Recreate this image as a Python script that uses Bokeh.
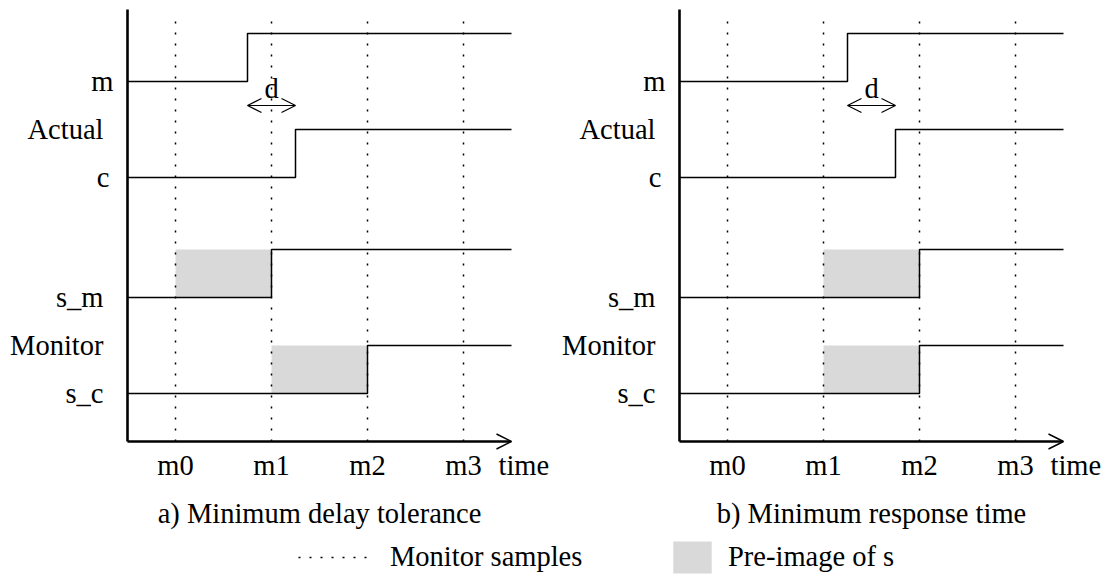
from bokeh.plotting import figure
from bokeh.models import Range1d, Arrow, OpenHead, Legend, LegendItem
from bokeh.core.properties import value
from bokeh.embed import file_html
from bokeh.resources import INLINE

# ---------------- data ----------------
sample_times = [1, 2, 3, 4]
sample_labels = ["m0", "m1", "m2", "m3"]
signal_names = ["m", "c", "s_m", "s_c"]
signal_levels = [7.5, 5.5, 3.0, 1.0]      # low level of each trace (high = low + 1)
group_names = ["Actual", "Monitor"]
group_levels = [6.5, 2.0]
time_start, time_end = 0.5, 4.5
axis_top = 9.0
samples_top = 8.875

# panel a) Minimum delay tolerance
rise_a = [1.75, 2.25, 2.0, 3.0]
pre_start_a = [1, 2]      # pre-image of s_m, s_c
pre_end_a = [2, 3]
# panel b) Minimum response time
rise_b = [2.25, 2.75, 3.0, 3.0]
pre_start_b = [2, 2]
pre_end_b = [3, 3]

captions = ["a) Minimum delay tolerance", "b) Minimum response time"]
legend_labels = ["Monitor samples", "Pre-image of s"]

# ---------------- layout ----------------
W, H = 1115, 577
UX, UY = 96.0, 48.0          # pixels per unit
ax_a = 175                   # canvas pixel of t=1, panel a
ax_b = 727                   # canvas pixel of t=1, panel b
y0_px = 441                  # canvas pixel (from top) of level 0

xa0 = 1 - ax_a / UX
xb0 = 1 - ax_b / UX
ytop = y0_px / UY

FONT = value("Liberation Serif")
FS = value("28.5px")
label_dx = [-14, -18, -24, -24]
group_dx = [-24, -24]

p = figure(width=W, height=H, x_range=Range1d(xa0, xa0 + W / UX),
           y_range=Range1d(ytop - H / UY, ytop),
           x_axis_type=None, y_axis_type=None, toolbar_location=None,
           output_backend="svg", min_border=0, outline_line_color=None)
p.extra_x_ranges = {"b": Range1d(xb0, xb0 + W / UX)}
p.background_fill_color = "white"
p.border_fill_color = "white"


def panel(rng, rise, pre_start, pre_end, caption):
    kw = {} if rng is None else {"x_range_name": rng}
    lv = [signal_levels[2], signal_levels[3]]
    shade = p.quad(left=pre_start, right=pre_end, bottom=lv, top=[l + 1 for l in lv],
                   fill_color="#d9d9d9", line_color=None, **kw)
    samples = p.segment(x0=sample_times, x1=sample_times,
                        y0=[0] * len(sample_times), y1=[samples_top] * len(sample_times),
                        line_color="black", line_width=1.5, line_dash="2 9", **kw)
    for lvl, r in zip(signal_levels, rise):
        p.line([time_start, r, r, time_end], [lvl, lvl, lvl + 1, lvl + 1],
               line_color="black", line_width=1.5, **kw)
    # axes
    p.segment(x0=[time_start], x1=[time_start], y0=[0], y1=[axis_top],
              line_color="black", line_width=2.6, **kw)
    p.add_layout(Arrow(end=OpenHead(size=15, line_width=1.5, line_color="black"),
                       x_start=time_start, y_start=0, x_end=time_end, y_end=0,
                       line_width=2.6, line_color="black", **kw))
    # delay arrow d
    yd = signal_levels[0] - 0.5
    p.add_layout(Arrow(start=OpenHead(size=14, line_width=1.2), end=OpenHead(size=14, line_width=1.2),
                       x_start=rise[0], y_start=yd, x_end=rise[1], y_end=yd,
                       line_width=1.2, line_color="black", **kw))
    p.text(x=[(rise[0] + rise[1]) / 2], y=[yd + 0.35], text=["d"], text_align="center",
           text_baseline="alphabetic", text_font=FONT, text_font_size=FS, **kw)
    # signal labels
    p.text(x=[time_start] * 4, y=signal_levels, text=signal_names, x_offset=label_dx,
           text_align="right", text_baseline="alphabetic", text_font=FONT, text_font_size=FS, **kw)
    p.text(x=[time_start] * 2, y=group_levels, text=group_names, x_offset=group_dx,
           text_align="right", text_baseline="alphabetic", text_font=FONT, text_font_size=FS, **kw)
    # tick labels
    p.text(x=sample_times, y=[-0.5] * 4, text=sample_labels, text_align="center",
           text_baseline="alphabetic", text_font=FONT, text_font_size=FS, **kw)
    p.text(x=[time_end], y=[-0.5], text=["time"], x_offset=-13, text_align="left",
           text_baseline="alphabetic", text_font=FONT, text_font_size=FS, **kw)
    p.text(x=[(time_start + time_end) / 2], y=[-1.5], text=[caption], text_align="center",
           text_baseline="alphabetic", text_font=FONT, text_font_size=FS, **kw)
    return samples, shade


samples_a, shade_a = panel(None, rise_a, pre_start_a, pre_end_a, captions[0])
panel("b", rise_b, pre_start_b, pre_end_b, captions[1])

common = dict(orientation="horizontal", padding=0, margin=0, spacing=0,
              border_line_color=None, background_fill_alpha=0,
              label_text_font="Liberation Serif", label_text_font_size="28.5px",
              label_text_color="black", glyph_height=40)
leg1 = Legend(items=[LegendItem(label=legend_labels[0], renderers=[samples_a])],
              location=(298, 0), glyph_width=74, label_standoff=18, **common)
leg2 = Legend(items=[LegendItem(label=legend_labels[1], renderers=[shade_a])],
              location=(668, 0), glyph_width=48, label_standoff=12, **common)
p.add_layout(leg1)
p.add_layout(leg2)

open("out.html", "w").write(file_html(p, INLINE))
